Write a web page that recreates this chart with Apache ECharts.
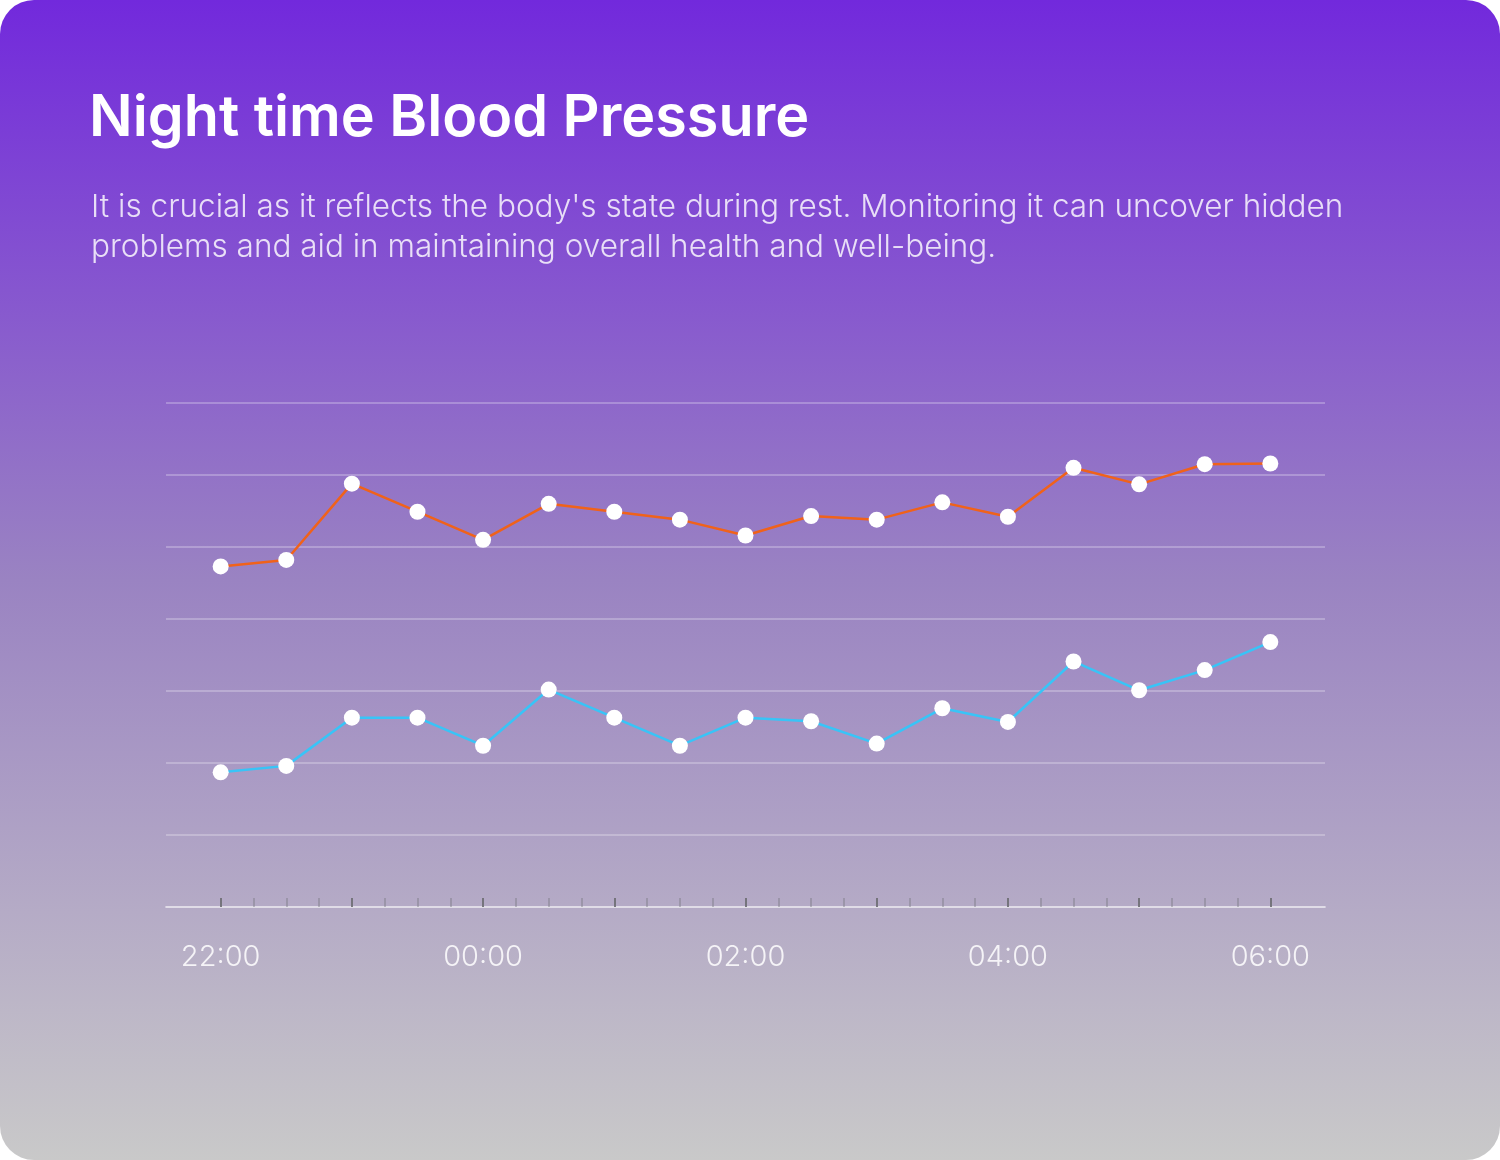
<!DOCTYPE html>
<html>
<head>
<meta charset="utf-8">
<script src="https://cdn.jsdelivr.net/npm/echarts@6/dist/echarts.min.js"></script>
<style>
  html, body { margin: 0; padding: 0; background: #ffffff; }
  #card {
    width: 1500px;
    height: 1160px;
    border-radius: 34px;
    background: linear-gradient(180deg, #7229dc 0%, #9a83c2 50%, #c9c9c9 100%);
    overflow: hidden;
  }
  #mainChart { width: 1500px; height: 1160px; }
</style>
</head>
<body>
<div id="card"><div id="mainChart"></div></div>
<script>
  // minutes after 22:00, one reading every 30 min
  const minutes = [0, 30, 60, 90, 120, 150, 180, 210, 240, 270, 300, 330, 360, 390, 420, 450, 480];
  const systolic = [107.3, 108.2, 118.8, 114.9, 111.0, 116.0, 114.9, 113.8, 111.6, 114.3, 113.8, 116.2, 114.2, 121.0, 118.7, 121.5, 121.6];
  const diastolic = [78.7, 79.6, 86.3, 86.3, 82.4, 90.2, 86.3, 82.4, 86.3, 85.8, 82.7, 87.6, 85.7, 94.1, 90.1, 92.9, 96.8];
  const minorTicks = [];
  for (let m = 0; m <= 480; m += 15) minorTicks.push(m);
  const hourTicks = [0, 60, 120, 180, 240, 300, 360, 420, 480];
  const labelTicks = [0, 120, 240, 360, 480];

  function timeLabel(v) {
    const h = (22 + Math.round(v / 60)) % 24;
    return (h < 10 ? "0" : "") + h + ":00";
  }

  const myChart = echarts.init(document.getElementById("mainChart"), null, { renderer: "canvas" });

  const option = {
    backgroundColor: "transparent",
    title: [
      {
        text: "Night time Blood Pressure",
        left: 84,
        top: 85,
        textStyle: {
          color: "#ffffff",
          fontFamily: "Inter",
          fontWeight: 600,
          fontSize: 57.5,
        },
      },
      {
        text: "It is crucial as it reflects the body's state during rest. Monitoring it can uncover hidden\nproblems and aid in maintaining overall health and well-being.",
        left: 86,
        top: 183,
        textStyle: {
          color: "rgba(255,255,255,0.82)",
          fontFamily: "Inter",
          fontWeight: 300,
          fontSize: 31.5,
          lineHeight: 40,
        },
      },
    ],
    grid: { left: 166, right: 175, top: 403, bottom: 253 },
    xAxis: [
      {
        type: "value",
        min: -25,
        max: 505,
        axisLine: { show: true, lineStyle: { color: "rgba(255,255,255,0.45)", width: 2 } },
        axisTick: {
          show: true,
          inside: true,
          length: 9,
          customValues: minorTicks,
          lineStyle: { color: "rgba(120,120,130,0.55)", width: 1.5 },
        },
        axisLabel: {
          customValues: labelTicks,
          formatter: timeLabel,
          color: "rgba(255,255,255,0.85)",
          fontFamily: "Inter",
          fontWeight: 300,
          fontSize: 29,
          margin: 36,
        },
        splitLine: { show: false },
      },
      {
        type: "value",
        position: "bottom",
        min: -25,
        max: 505,
        axisLine: { show: false },
        axisTick: {
          show: true,
          inside: true,
          length: 9,
          customValues: hourTicks,
          lineStyle: { color: "rgba(110,110,115,0.85)", width: 2 },
        },
        axisLabel: { show: false },
        splitLine: { show: false },
      },
    ],
    yAxis: {
      type: "value",
      min: 60,
      max: 130,
      interval: 10,
      axisLine: { show: false },
      axisTick: { show: false },
      axisLabel: { show: false },
      splitLine: { lineStyle: { color: "rgba(255,255,255,0.25)", width: 2 } },
    },
    series: [
      {
        name: "Systolic",
        type: "line",
        data: minutes.map((m, i) => [m, systolic[i]]),
        symbol: "circle",
        symbolSize: 16,
        itemStyle: { color: "#ffffff" },
        lineStyle: { color: "#f0621a", width: 2.5 },
        z: 3,
      },
      {
        name: "Diastolic",
        type: "line",
        data: minutes.map((m, i) => [m, diastolic[i]]),
        symbol: "circle",
        symbolSize: 16,
        itemStyle: { color: "#ffffff" },
        lineStyle: { color: "#38c4f7", width: 2.5 },
        z: 3,
      },
    ],
  };

  myChart.setOption(option);
  window.addEventListener("resize", function () {
    myChart.resize();
  });
</script>
</body>
</html>
